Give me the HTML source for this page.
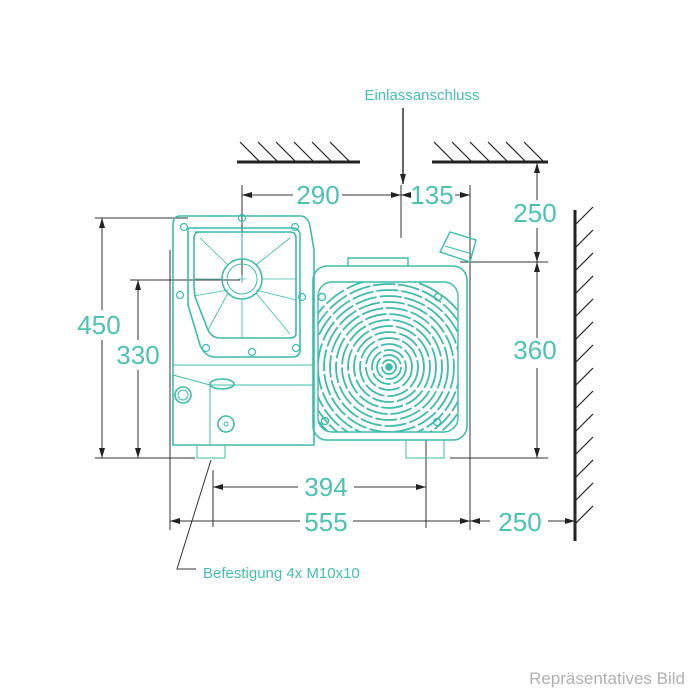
<!DOCTYPE html>
<html><head><meta charset="utf-8"><style>html,body{margin:0;padding:0;background:#fff}svg{display:block}</style></head>
<body>
<svg width="700" height="700" viewBox="0 0 700 700" xmlns="http://www.w3.org/2000/svg" font-family="Liberation Sans, sans-serif">
<defs>
<marker id="a" viewBox="0 0 10 6" refX="10" refY="3" markerWidth="10" markerHeight="6" orient="auto-start-reverse" markerUnits="userSpaceOnUse"><path d="M0,0L10,3L0,6z" fill="#222"/></marker>
<clipPath id="fc"><rect x="318" y="282" width="140" height="150" rx="14"/></clipPath>
</defs>
<g stroke="#222" fill="none">
<line x1="237" y1="162" x2="360" y2="162" stroke-width="3"/>
<line x1="432" y1="162" x2="548" y2="162" stroke-width="3"/>
<line x1="575" y1="210" x2="575" y2="541" stroke-width="3"/>
<g stroke-width="1.2">
<path d="M240,142l20,20M258,142l20,20M276,142l20,20M294,142l20,20M312,142l20,20M330,142l20,20M434,142l20,20M452,142l20,20M470,142l20,20M488,142l20,20M506,142l20,20M524,142l20,20"/>
<path d="M575,225l18,-18M575,248l18,-18M575,271l18,-18M575,294l18,-18M575,317l18,-18M575,340l18,-18M575,363l18,-18M575,386l18,-18M575,409l18,-18M575,432l18,-18M575,455l18,-18M575,478l18,-18M575,501l18,-18M575,524l18,-18"/>
</g>
</g>
<g stroke="#333" stroke-width="1" fill="none">
<line x1="403" y1="108" x2="403" y2="184" stroke-width="1.5" marker-end="url(#a)"/>
<line x1="242" y1="185" x2="242" y2="282"/>
<line x1="401" y1="185" x2="401" y2="238"/>
<line x1="470" y1="185" x2="470" y2="530"/>
<line x1="242" y1="195" x2="293" y2="195" marker-start="url(#a)"/>
<line x1="342" y1="195" x2="401" y2="195" marker-end="url(#a)"/>
<line x1="401" y1="195" x2="410" y2="195" marker-start="url(#a)"/>
<line x1="455" y1="195" x2="470" y2="195" marker-end="url(#a)"/>
<line x1="537" y1="163" x2="537" y2="200" marker-start="url(#a)"/>
<line x1="537" y1="228" x2="537" y2="262" marker-end="url(#a)"/>
<line x1="537" y1="262" x2="537" y2="338" marker-start="url(#a)"/>
<line x1="537" y1="368" x2="537" y2="458" marker-end="url(#a)"/>
<line x1="460" y1="262" x2="548" y2="262"/>
<line x1="450" y1="458" x2="548" y2="458"/>
<line x1="95" y1="218" x2="188" y2="218"/>
<line x1="95" y1="458" x2="195" y2="458"/>
<line x1="130" y1="280" x2="240" y2="280"/>
<line x1="102" y1="218" x2="102" y2="310" marker-start="url(#a)"/>
<line x1="102" y1="340" x2="102" y2="458" marker-end="url(#a)"/>
<line x1="138" y1="280" x2="138" y2="340" marker-start="url(#a)"/>
<line x1="138" y1="370" x2="138" y2="458" marker-end="url(#a)"/>
<line x1="213" y1="470" x2="213" y2="527"/>
<line x1="426" y1="440" x2="426" y2="528"/>
<line x1="213" y1="487" x2="298" y2="487" marker-start="url(#a)"/>
<line x1="354" y1="487" x2="426" y2="487" marker-end="url(#a)"/>
<line x1="170" y1="250" x2="170" y2="530"/>
<line x1="575" y1="510" x2="575" y2="530"/>
<line x1="170" y1="521" x2="300" y2="521" marker-start="url(#a)"/>
<line x1="353" y1="521" x2="470" y2="521" marker-end="url(#a)"/>
<line x1="470" y1="521" x2="490" y2="521" marker-start="url(#a)"/>
<line x1="548" y1="521" x2="575" y2="521" marker-end="url(#a)"/>
<polyline points="211,460 177,569 196,569"/>
</g>
<g stroke="#3dbcab" fill="none" stroke-width="1.6">
<path d="M180,216 L300,216 Q308,216 310,226 L314,250 L314,445 L173,445 L173,225 Q173,216 180,216 Z"/>
<path d="M188,228 L292,228 Q300,228 300,236 L300,350 Q300,357 292,357 L215,357 Q205,357 200,345 L188,305 Z"/>
<path d="M195,232 L290,232 Q296,232 296,238 L296,333 Q296,338 290,338 L220,338 Q212,338 208,330 L197,302 Q194,295 194,285 L194,238 Q194,232 200,232 Z"/>
<circle cx="242" cy="279" r="20"/>
<circle cx="242" cy="279" r="15" stroke-width="1"/>
<g stroke-width="0.8"><path d="M242,259V232M242,299V338M222,279H194M262,279H296M228,265L200,238M256,265L290,238M228,293L208,330M256,293L290,334M228,290L194,296M256,290L296,300"/><path d="M238,279h8M242,275v8"/></g>
<path d="M173,365 L314,365 M173,445 L314,445 M210,385 L314,385 M210,385 L210,445 M173,375 L210,385" stroke-width="1"/>
<ellipse cx="222" cy="384" rx="12" ry="5"/>
<circle cx="226" cy="424" r="8"/><circle cx="226" cy="424" r="2" stroke-width="1"/>
<circle cx="183" cy="395" r="8"/><circle cx="183" cy="395" r="5" stroke-width="1"/>
<rect x="197" y="445" width="28" height="13" stroke-width="1"/>
<rect x="406" y="440" width="38" height="18" stroke-width="1"/>
<g stroke-width="1.2"><circle cx="184" cy="227" r="3.5"/><circle cx="242" cy="218" r="3.5"/><circle cx="295" cy="227" r="3.5"/><circle cx="180" cy="295" r="3.5"/><circle cx="302" cy="297" r="3.5"/><circle cx="206" cy="348" r="3.5"/><circle cx="252" cy="352" r="3.5"/><circle cx="296" cy="348" r="3.5"/></g>
<rect x="313" y="266" width="154" height="174" rx="14" stroke-width="1.6"/>
<path d="M348,267 V258 H408 V267" stroke-width="1.4"/>
<path d="M440,252 L450,232 L476,240 L470,262 Z" stroke-width="1.4"/>
<path d="M445,246 L472,254" stroke-width="1"/>
<rect x="318" y="282" width="140" height="150" rx="14" stroke-width="1.4"/>
<g clip-path="url(#fc)" stroke-width="1.8" stroke-dasharray="22 3">
<circle cx="389" cy="367" r="7"/><circle cx="389" cy="367" r="12"/><circle cx="389" cy="367" r="17"/><circle cx="389" cy="367" r="23"/><circle cx="389" cy="367" r="29"/><circle cx="389" cy="367" r="35"/><circle cx="389" cy="367" r="41"/><circle cx="389" cy="367" r="47"/><circle cx="389" cy="367" r="53"/><circle cx="389" cy="367" r="59"/><circle cx="389" cy="367" r="65"/><circle cx="389" cy="367" r="71"/><circle cx="389" cy="367" r="77"/><circle cx="389" cy="367" r="83"/><circle cx="389" cy="367" r="89"/>
</g>
<circle cx="389" cy="367" r="3" fill="#3dbcab"/>
<g stroke-width="1.4"><circle cx="322" cy="297" r="3.5"/><circle cx="438" cy="297" r="3.5"/><circle cx="325" cy="421" r="3.5"/><circle cx="437" cy="422" r="3.5"/></g>
</g>
<g fill="#4cc2b3" font-size="26">
<text x="318" y="204" text-anchor="middle">290</text>
<text x="432" y="204" text-anchor="middle">135</text>
<text x="535" y="222" text-anchor="middle">250</text>
<text x="535" y="359" text-anchor="middle">360</text>
<text x="99" y="334" text-anchor="middle">450</text>
<text x="138" y="364" text-anchor="middle">330</text>
<text x="326" y="496" text-anchor="middle">394</text>
<text x="326" y="531" text-anchor="middle">555</text>
<text x="520" y="531" text-anchor="middle">250</text>
</g>
<text x="422" y="100" fill="#44bfb0" font-size="15" text-anchor="middle">Einlassanschluss</text>
<text x="203" y="578" fill="#44bfb0" font-size="15">Befestigung 4x M10x10</text>
<text x="685" y="684" fill="#b0b0b0" font-size="17" text-anchor="end">Repräsentatives Bild</text>
</svg>
</body></html>
